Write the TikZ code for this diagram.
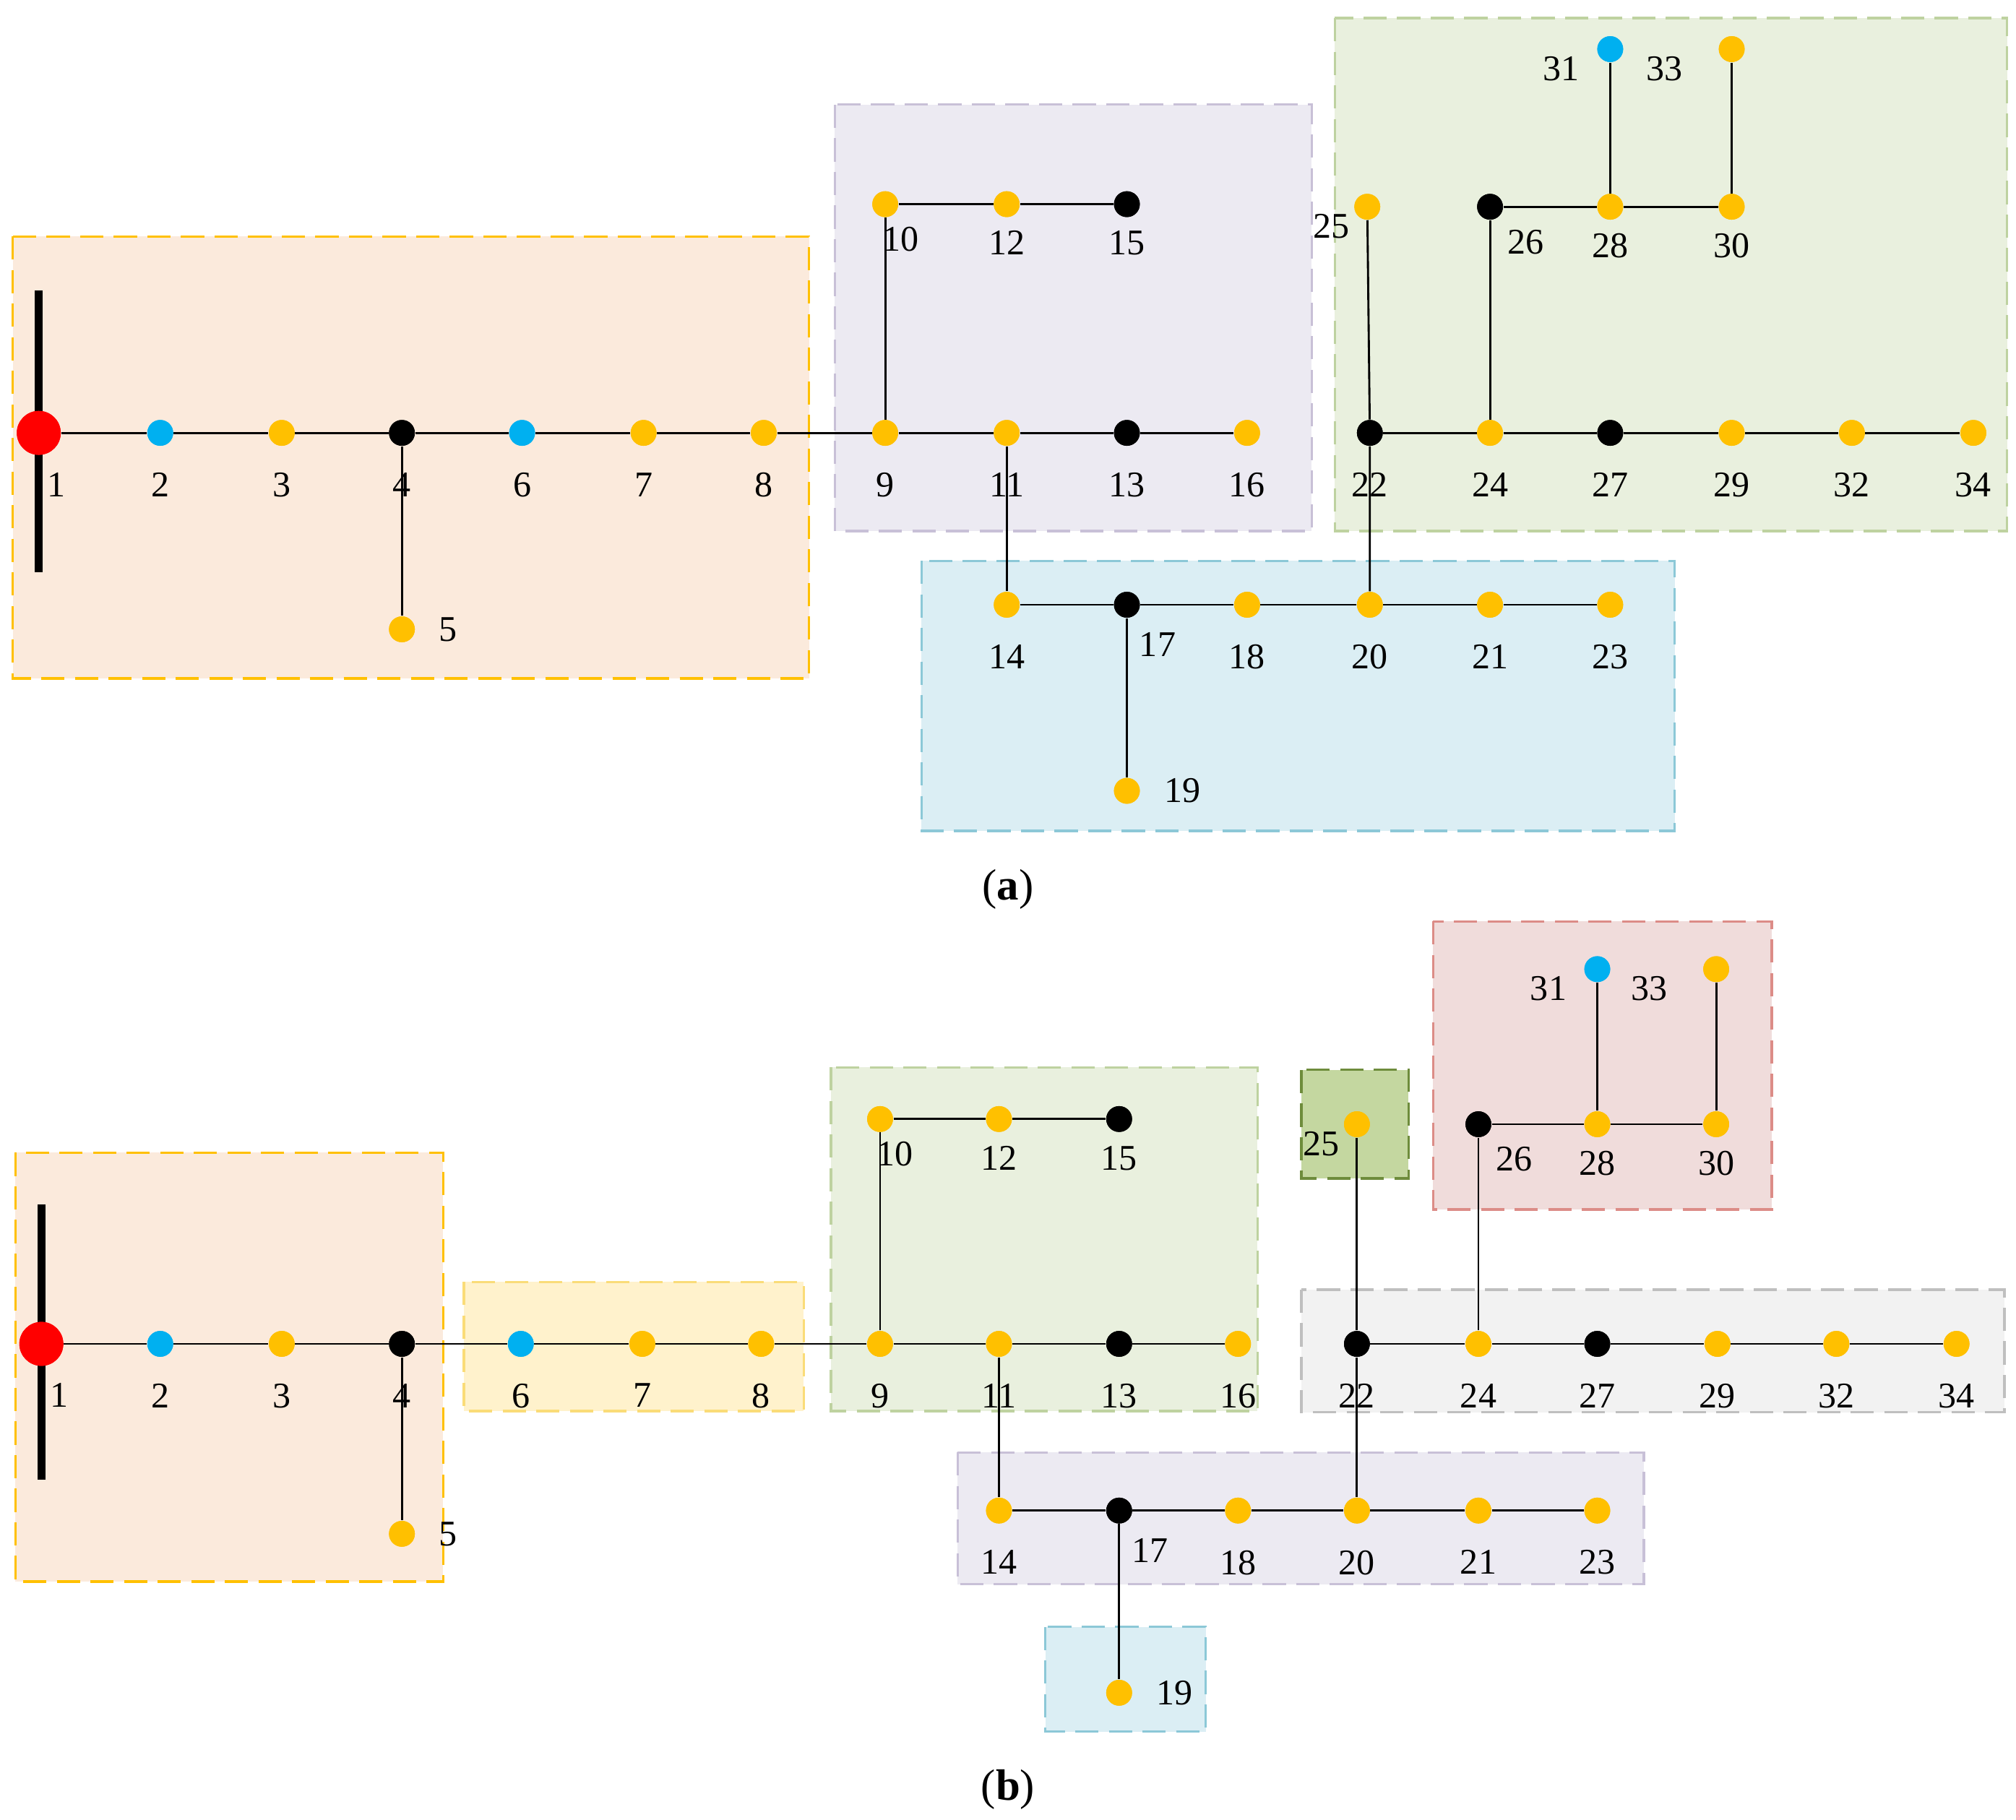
\documentclass[tikz,border=0pt]{standalone}
\usepackage{fontspec}
\setmainfont{Liberation Serif}
\usetikzlibrary{positioning}

\definecolor{busY}{RGB}{255,192,0}
\definecolor{busB}{RGB}{0,176,240}
\definecolor{busR}{RGB}{255,0,0}
\definecolor{zOrF}{RGB}{251,234,220}
\definecolor{zPuF}{RGB}{236,234,242}
\definecolor{zPuD}{RGB}{200,192,215}
\definecolor{zGrF}{RGB}{233,240,222}
\definecolor{zGrD}{RGB}{190,210,160}
\definecolor{zBlF}{RGB}{219,238,244}
\definecolor{zBlD}{RGB}{140,200,215}
\definecolor{zRdF}{RGB}{240,220,219}
\definecolor{zRdD}{RGB}{220,140,135}
\definecolor{zYeF}{RGB}{255,242,204}
\definecolor{zYeD}{RGB}{250,220,120}
\definecolor{zDgF}{RGB}{196,215,160}
\definecolor{zDgD}{RGB}{110,140,60}

\tikzset{
  yb/.style={circle, fill=busY, inner sep=0pt, minimum size=10pt},
  bb/.style={circle, fill=busB, inner sep=0pt, minimum size=10pt},
  kb/.style={circle, fill=black, inner sep=0pt, minimum size=10pt},
  rb/.style={circle, fill=busR, inner sep=0pt, minimum size=17pt},
  lbl/.style={font=\fontsize{14}{16}\selectfont, inner sep=1pt},
  line/.style={black, line width=0.8pt},
  zone/.style={dashed, dash pattern=on 9pt off 4pt, line width=0.9pt}
}

\begin{document}
\begin{tikzpicture}[x=0.5pt, y=-0.5pt]
\useasboundingbox (0,0) rectangle (1560,1408);

% zones (a)
\draw[zone, draw=busY, fill=zOrF] (10,183) rectangle (626,525);
\draw[zone, draw=zPuD, fill=zPuF] (646,81) rectangle (1015,411);
\draw[zone, draw=zGrD, fill=zGrF] (1033,14) rectangle (1553,411);
\draw[zone, draw=zBlD, fill=zBlF] (713,434) rectangle (1296,643);

% zones (b)
\draw[zone, draw=busY, fill=zOrF] (12,892) rectangle (343,1224);
\draw[zone, draw=zYeD, fill=zYeF] (359,992) rectangle (622,1092);
\draw[zone, draw=zGrD, fill=zGrF] (643,826) rectangle (973,1092);
\draw[zone, draw=zDgD, fill=zDgF] (1007,828) rectangle (1090,912);
\draw[zone, draw=zRdD, fill=zRdF] (1109,713) rectangle (1371,936);
\draw[zone, draw=gray!50, fill=gray!10] (1007,998) rectangle (1551,1093);
\draw[zone, draw=zPuD, fill=zPuF] (741,1124) rectangle (1272,1226);
\draw[zone, draw=zBlD, fill=zBlF] (809,1259) rectangle (933,1340);

% buses (a)
\draw[line width=3pt] (30,225) -- (30,443);
\node[rb] (a1) at (30,335) {};
\foreach \n/\x/\s in {2/124/bb, 3/218/yb, 4/311/kb, 6/404/bb, 7/498/yb, 8/591/yb,
  9/685/yb, 11/779/yb, 13/872/kb, 16/965/yb, 22/1060/kb, 24/1153/yb, 27/1246/kb,
  29/1340/yb, 32/1433/yb, 34/1527/yb}
  \node[\s] (a\n) at (\x,335) {};
\foreach \n/\x/\s in {14/779/yb, 17/872/kb, 18/965/yb, 20/1060/yb, 21/1153/yb, 23/1246/yb}
  \node[\s] (a\n) at (\x,468) {};
\foreach \n/\x/\s in {10/685/yb, 12/779/yb, 15/872/kb}
  \node[\s] (a\n) at (\x,158) {};
\foreach \n/\x/\s in {25/1058/yb, 26/1153/kb, 28/1246/yb, 30/1340/yb}
  \node[\s] (a\n) at (\x,160) {};
\node[bb] (a31) at (1246,38) {};
\node[yb] (a33) at (1340,38) {};
\node[yb] (a5) at (311,487) {};
\node[yb] (a19) at (872,612) {};

% buses (b)
\draw[line width=3pt] (32,932) -- (32,1145);
\node[rb] (b1) at (32,1040) {};
\foreach \n/\x/\s in {2/124/bb, 3/218/yb, 4/311/kb, 6/403/bb, 7/497/yb, 8/589/yb,
  9/681/yb, 11/773/yb, 13/866/kb, 16/958/yb, 22/1050/kb, 24/1144/yb, 27/1236/kb,
  29/1329/yb, 32/1421/yb, 34/1514/yb}
  \node[\s] (b\n) at (\x,1040) {};
\foreach \n/\x/\s in {14/773/yb, 17/866/kb, 18/958/yb, 20/1050/yb, 21/1144/yb, 23/1236/yb}
  \node[\s] (b\n) at (\x,1169) {};
\foreach \n/\x/\s in {10/681/yb, 12/773/yb, 15/866/kb}
  \node[\s] (b\n) at (\x,866) {};
\foreach \n/\x/\s in {25/1050/yb, 26/1144/kb, 28/1236/yb, 30/1328/yb}
  \node[\s] (b\n) at (\x,870) {};
\node[bb] (b31) at (1236,750) {};
\node[yb] (b33) at (1328,750) {};
\node[yb] (b5) at (311,1187) {};
\node[yb] (b19) at (866,1310) {};

% lines and labels for both cases
\foreach \c in {a,b} {
  \draw[line] (\c1) -- (\c2) -- (\c3) -- (\c4) -- (\c6) -- (\c7) -- (\c8) -- (\c9)
    -- (\c11) -- (\c13) -- (\c16);
  \draw[line] (\c4) -- (\c5);
  \draw[line] (\c9) -- (\c10) -- (\c12) -- (\c15);
  \draw[line] (\c11) -- (\c14);
  \draw[line] (\c14) -- (\c17) -- (\c18) -- (\c20) -- (\c21) -- (\c23);
  \draw[line] (\c17) -- (\c19);
  \draw[line] (\c20) -- (\c22) -- (\c25);
  \draw[line] (\c22) -- (\c24) -- (\c27) -- (\c29) -- (\c32) -- (\c34);
  \draw[line] (\c24) -- (\c26) -- (\c28) -- (\c30);
  \draw[line] (\c28) -- (\c31);
  \draw[line] (\c30) -- (\c33);
  \foreach \n in {2,3,4,6,7,8,9,11,13,16,22,24,27,29,32,34,14,18,20,21,23}
    \node[lbl, below=9pt of \c\n] {\n};
  \foreach \n in {12,15,28,30}
    \node[lbl, below=4pt of \c\n] {\n};
  \node[lbl, below right=4pt and -6pt of \c10] {10};
  \node[lbl, below right=8pt and -4pt of \c1] {1};
  \node[lbl, below right=6pt and 0pt of \c17] {17};
  \node[lbl, below right=4pt and 2pt of \c26] {26};
  \node[lbl, right=8pt of \c5] {5};
  \node[lbl, right=8pt of \c19] {19};
  \node[lbl, below left=-2pt and 2pt of \c25] {25};
  \node[lbl, below left=-2pt and 7pt of \c31] {31};
  \node[lbl, below left=-2pt and 14pt of \c33] {33};
}
% redraw bus dots on top
\foreach \c in {a,b}
  \foreach \n/\s in {2/bb,3/yb,4/kb,5/yb,6/bb,7/yb,8/yb,9/yb,10/yb,11/yb,12/yb,13/kb,14/yb,
    15/kb,16/yb,17/kb,18/yb,19/yb,20/yb,21/yb,22/kb,23/yb,24/yb,25/yb,26/kb,27/kb,28/yb,
    29/yb,30/yb,31/bb,32/yb,33/yb,34/yb}
    \node[\s] at (\c\n) {};
\node[rb] at (a1) {};
\node[rb] at (b1) {};

\node[lbl, font=\fontsize{17}{20}\selectfont] (capa) at (780,688) {(\textbf{a})};
\node[lbl, font=\fontsize{17}{20}\selectfont] (capb) at (780,1385) {(\textbf{b})};
\end{tikzpicture}
\end{document}
